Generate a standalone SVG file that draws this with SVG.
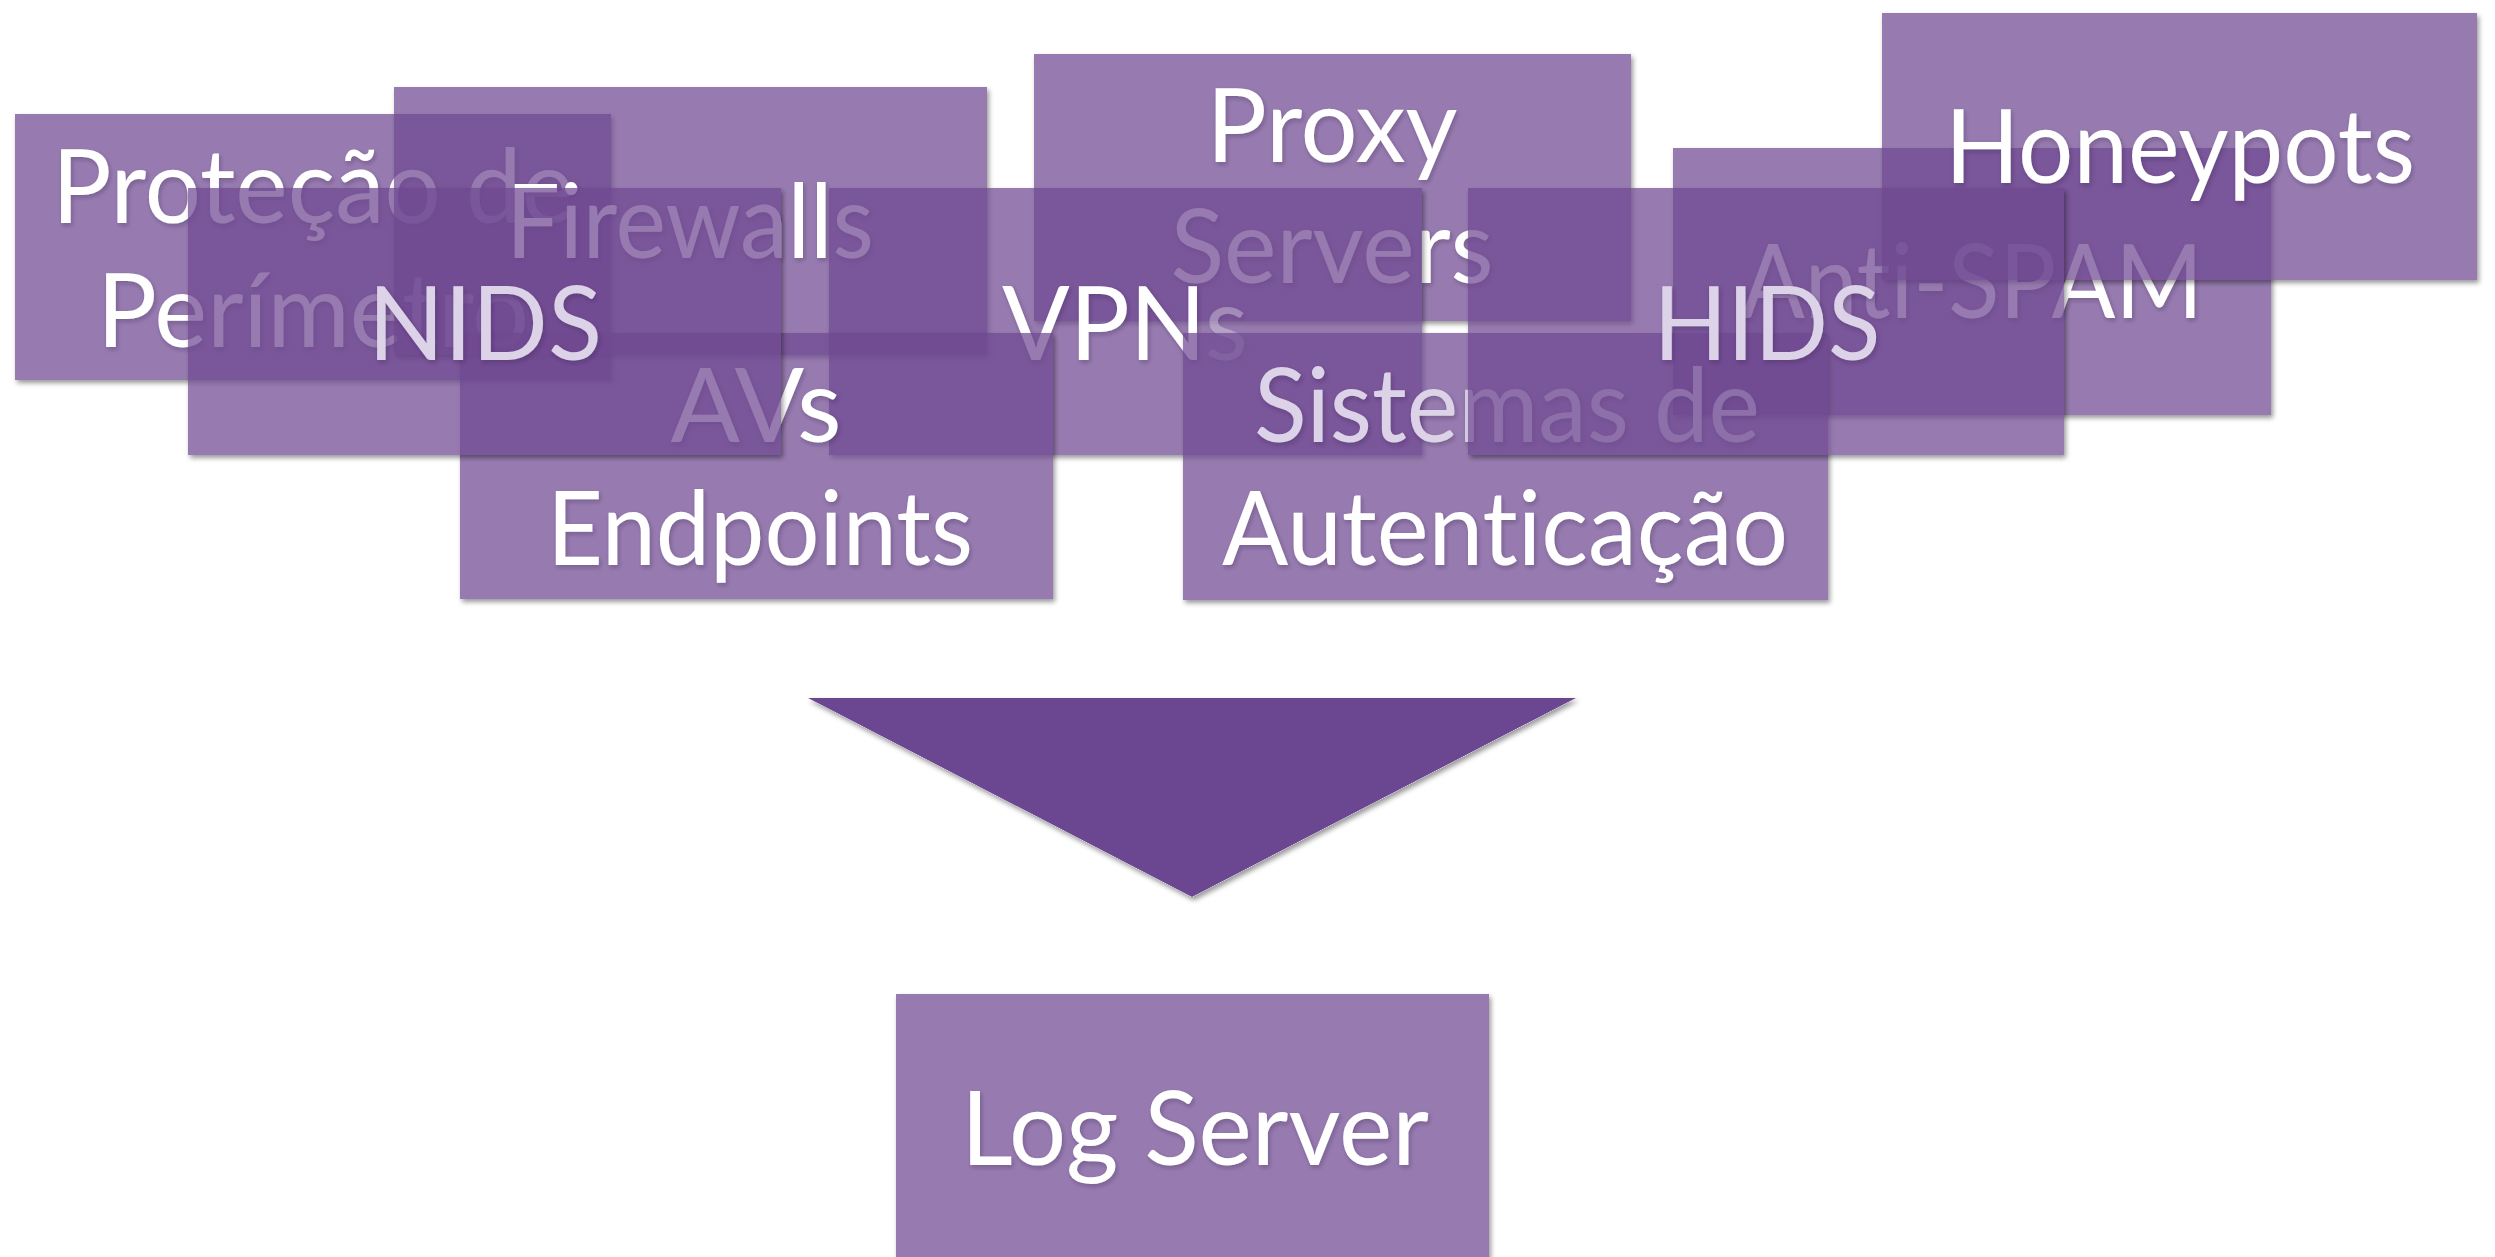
<svg xmlns="http://www.w3.org/2000/svg" width="2495" height="1257" viewBox="0 0 2495 1257">
  <defs>
    <style>
      .box { fill: #6f4991; fill-opacity: 0.72; filter: url(#boxShadow); }
      .lbl { font-family: Lato, "Open Sans", "Liberation Sans", sans-serif; font-size: 102px; fill: #ffffff; text-anchor: middle; font-variant-ligatures: none; font-feature-settings: "liga" 0, "clig" 0; filter: url(#textShadow); }
      .soft { fill: #ddd3e8; }
      .faint { fill-opacity: 0.3; }
      .arrow { fill: #6b4790; filter: url(#boxShadow); }
    </style>
    <!-- drop shadow kept outside the shape so it never shows through the translucent fill -->
    <filter id="boxShadow" x="-3%" y="-5%" width="106%" height="112%">
      <feComponentTransfer in="SourceAlpha" result="solid">
        <feFuncA type="linear" slope="4"/>
      </feComponentTransfer>
      <feGaussianBlur in="solid" stdDeviation="2.5"/>
      <feOffset dx="2" dy="3" result="blurred"/>
      <feFlood flood-color="#000000" flood-opacity="0.4"/>
      <feComposite in2="blurred" operator="in" result="shadow"/>
      <feComposite in="shadow" in2="solid" operator="out" result="outer"/>
      <feMerge>
        <feMergeNode in="outer"/>
        <feMergeNode in="SourceGraphic"/>
      </feMerge>
    </filter>
    <filter id="textShadow" x="-5%" y="-20%" width="110%" height="140%">
      <feDropShadow dx="1.5" dy="2.5" stdDeviation="2" flood-color="#2a1540" flood-opacity="0.3"/>
    </filter>
  </defs>

  <rect width="2495" height="1257" fill="#ffffff"/>

  <!-- top cluster of sources, painted bottom to top -->
  <g id="n-protecao">
    <rect class="box" x="15" y="114" width="596" height="266"/>
    <text class="lbl" x="313" y="223" textLength="522" lengthAdjust="spacingAndGlyphs">Proteção de</text>
    <text class="lbl" x="313" y="347" textLength="432" lengthAdjust="spacingAndGlyphs">Perímetro</text>
  </g>
  <g id="n-firewalls">
    <rect class="box" x="394" y="87" width="593" height="268"/>
    <text class="lbl" x="690" y="258" textLength="368" lengthAdjust="spacingAndGlyphs">Firewalls</text>
  </g>
  <g id="n-proxy">
    <rect class="box" x="1034" y="54" width="597" height="267"/>
    <text class="lbl" x="1332" y="162" textLength="251" lengthAdjust="spacingAndGlyphs">Proxy</text>
    <text class="lbl" x="1332" y="283" textLength="323" lengthAdjust="spacingAndGlyphs">Servers</text>
  </g>
  <g id="n-antispam">
    <rect class="box" x="1673" y="148" width="598" height="267"/>
    <text class="lbl" x="1972" y="318" textLength="462" lengthAdjust="spacingAndGlyphs">Anti-SPAM</text>
  </g>
  <g id="n-honeypots">
    <rect class="box" x="1882" y="13" width="595" height="267"/>
    <text class="lbl" x="2180" y="183" textLength="470" lengthAdjust="spacingAndGlyphs">Honeypots</text>
  </g>
  <g id="n-vpns">
    <rect class="box" x="829" y="188" width="593" height="267"/>
    <text class="lbl" x="1125" y="360" textLength="246" lengthAdjust="spacingAndGlyphs">VPN<tspan class="faint">s</tspan></text>
  </g>
  <g id="n-avs">
    <rect class="box" x="460" y="333" width="593" height="266"/>
    <text class="lbl" x="756" y="442" textLength="171" lengthAdjust="spacingAndGlyphs">AVs</text>
    <text class="lbl" x="760" y="565" textLength="426" lengthAdjust="spacingAndGlyphs">Endpoints</text>
  </g>
  <g id="n-nids">
    <rect class="box" x="188" y="188" width="593" height="267"/>
    <text class="lbl soft" x="485" y="360" textLength="234" lengthAdjust="spacingAndGlyphs">NIDS</text>
  </g>
  <g id="n-sistemas">
    <rect class="box" x="1183" y="333" width="645" height="267"/>
    <text class="lbl soft" x="1507" y="442" textLength="506" lengthAdjust="spacingAndGlyphs">Sistemas de</text>
    <text class="lbl" x="1505" y="565" textLength="566" lengthAdjust="spacingAndGlyphs">Autenticação</text>
  </g>
  <g id="n-hids">
    <rect class="box" x="1468" y="188" width="596" height="267"/>
    <text class="lbl soft" x="1767" y="360" textLength="227" lengthAdjust="spacingAndGlyphs">HIDS</text>
  </g>

  <!-- funnel arrow towards the collector -->
  <g id="connectors">
    <polygon class="arrow" points="808,698 1576,698 1192,897"/>
  </g>

  <g id="n-logserver">
    <rect class="box" x="896" y="994" width="593" height="270"/>
    <text class="lbl" x="1195" y="1165" textLength="468" lengthAdjust="spacingAndGlyphs">Log Server</text>
  </g>
</svg>
